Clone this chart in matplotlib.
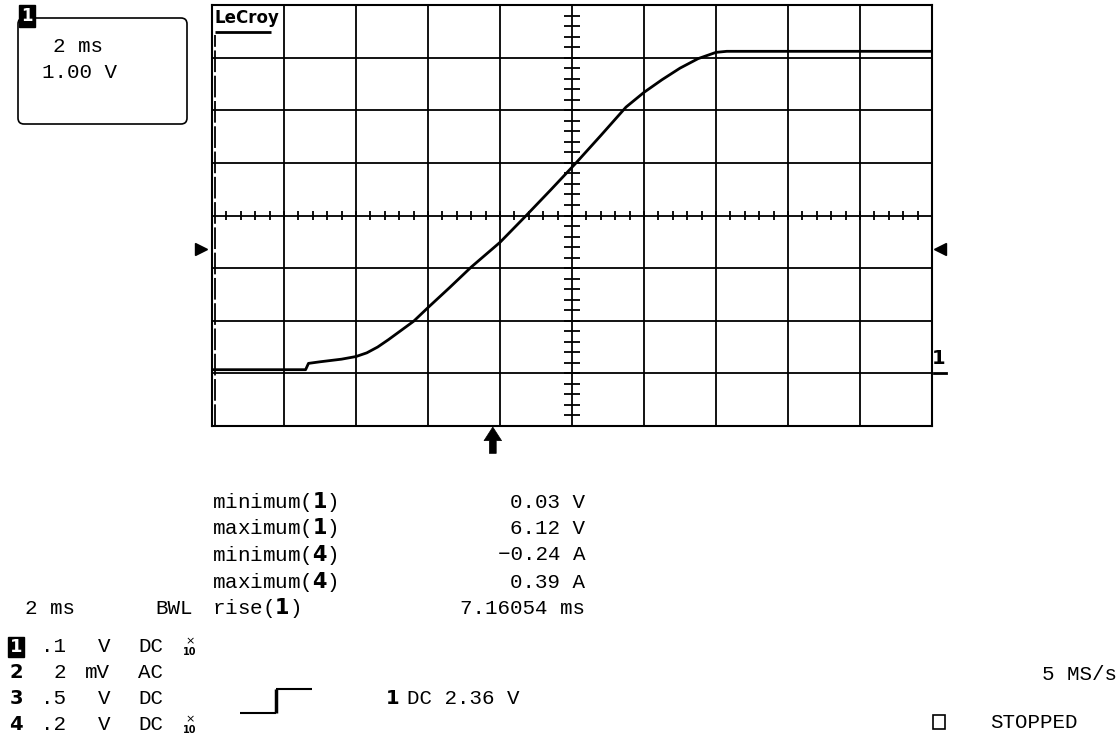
import numpy as np
import matplotlib
matplotlib.use("Agg")
import matplotlib.pyplot as plt
from matplotlib.patches import FancyBboxPatch, Rectangle
from matplotlib.lines import Line2D

# ---------------- data ----------------
time_ms = [0, 2.6, 2.68, 3.0, 3.6, 4.0, 4.3, 4.6, 4.9, 5.2, 5.6, 6.0, 6.6, 7.2, 8.0,
           8.7, 9.4, 10.1, 10.8, 11.5, 12.0, 12.5, 13.0, 13.5, 14.0, 14.3, 20]
volts = [0.07, 0.07, 0.19, 0.22, 0.27, 0.32, 0.39, 0.50, 0.64, 0.79, 0.99, 1.25, 1.63,
         2.02, 2.49, 2.98, 3.48, 3.99, 4.52, 5.06, 5.34, 5.58, 5.80, 5.98, 6.10,
         6.12, 6.12]
trigger_level_v = 2.36
trigger_time_ms = 7.8
meas_labels = ["minimum", "maximum", "minimum", "maximum", "rise"]
meas_channels = ["1", "1", "4", "4", "1"]
meas_values = ["0.03 V", "6.12 V", "\u22120.24 A", "0.39 A", "7.16054 ms"]
chan_ids = ["1", "2", "3", "4"]
chan_scale = [".1", "2", ".5", ".2"]
chan_unit = ["V", "mV", "V", "V"]
chan_coupling = ["DC", "AC", "DC", "DC"]
chan_probe10 = [True, False, False, True]

W, H = 1120, 738
fig = plt.figure(figsize=(W / 100, H / 100), dpi=100)
fig.patch.set_facecolor("white")
MONO = "Liberation Mono"
FS = 15

def px(x, y):
    return x / W, 1 - y / H

def ftext(x, y, s, ha="left", va="center", **kw):
    kw.setdefault("family", MONO)
    kw.setdefault("fontsize", FS)
    kw.setdefault("color", "black")
    return fig.text(*px(x, y), s, ha=ha, va=va, **kw)

def fline(xs, ys, lw=1.5):
    fx = [x / W for x in xs]
    fy = [1 - y / H for y in ys]
    fig.add_artist(Line2D(fx, fy, transform=fig.transFigure, color="black",
                          lw=lw, solid_capstyle="butt"))

# ---------------- grid / axes ----------------
left, right, top, bottom = 212, 932, 5, 426
ax = fig.add_axes([left / W, 1 - bottom / H, (right - left) / W, (bottom - top) / H])
ax.set_xlim(0, 20)
ax.set_ylim(-1, 7)
ax.set_xticks(np.arange(0, 20.01, 2))
ax.set_yticks(np.arange(-1, 7.01, 1))
ax.tick_params(length=0, labelbottom=False, labelleft=False)
ax.grid(True, color="black", lw=1.3)
for sp in ax.spines.values():
    sp.set_linewidth(1.5)
    sp.set_color("black")

# minor ticks on centre lines
xt = np.arange(0, 20.001, 0.4)
ax.vlines(xt, 3 - 0.08, 3 + 0.08, color="black", lw=1.3)
yt = np.arange(-1, 7.001, 0.2)
ax.hlines(yt, 10 - 0.21, 10 + 0.21, color="black", lw=1.3)

# dashed left marker line
ax.plot([0.09, 0.09], [-1, 6.43], color="black", lw=1.3, ls=(0, (12, 2)))

# trace
ax.plot(time_ms, volts, color="black", lw=2.0, solid_joinstyle="round")

# trigger level markers
ax.plot([-0.31], [trigger_level_v], marker=">", ms=8, color="black", clip_on=False)
ax.plot([20.22], [trigger_level_v], marker="<", ms=8, color="black", clip_on=False)

# ground marker "1"
ax.plot([20.06, 20.39], [0, 0], color="black", lw=2, clip_on=False)
ftext(939, 359, "1", ha="center", family="DejaVu Sans", fontweight="bold", fontsize=14)

# trigger time arrow
ax.annotate("", xy=(trigger_time_ms, -1.02), xytext=(trigger_time_ms, -1.52),
            arrowprops=dict(arrowstyle="simple,head_length=0.7,head_width=0.9,tail_width=0.35",
                            mutation_scale=14, fc="black", ec="black", lw=0.5,
                            shrinkA=0, shrinkB=0),
            annotation_clip=False)

# LeCroy logo
ftext(215, 18, "LeCroy", family="DejaVu Sans", fontweight="bold", fontsize=12)
fline([215, 271], [32, 32], lw=2)

# ---------------- top-left info box ----------------
box = FancyBboxPatch((0.18, (H - 124) / 100), 1.69, 1.06,
                     boxstyle="round,pad=0,rounding_size=0.06",
                     transform=fig.dpi_scale_trans, fc="none", ec="black", lw=1.2)
fig.add_artist(box)
ftext(27, 16, "1", ha="center", family="DejaVu Sans", fontweight="bold",
      fontsize=12, color="white",
      bbox=dict(boxstyle="square,pad=0.12", fc="black", ec="black"))
ftext(53, 47, "2 ms")
ftext(42, 72, "1.00 V")

# ---------------- measurements ----------------
meas_y = [502, 528, 555, 582, 608]
for lab, ch, val, y in zip(meas_labels, meas_channels, meas_values, meas_y):
    ftext(212, y, lab + "($\\mathbf{" + ch + "}$)")
    ftext(585, y, val, ha="right")

ftext(25, 608, "2 ms")
ftext(193, 608, "BWL", ha="right")

# ---------------- channel rows ----------------
row_y = [647, 672, 698, 725]
for i, y in enumerate(row_y):
    if i == 0:
        ftext(16, y, chan_ids[i], ha="center", family="DejaVu Sans", fontweight="bold",
              fontsize=13, color="white",
              bbox=dict(boxstyle="square,pad=0.08", fc="black", ec="black"))
    else:
        ftext(16, y, chan_ids[i], ha="center", family="DejaVu Sans", fontweight="bold",
              fontsize=14)
    ftext(66, y, chan_scale[i], ha="right")
    ftext(110, y, chan_unit[i], ha="right")
    ftext(138, y, chan_coupling[i])
    if chan_probe10[i]:
        ftext(190, y - 6, "\u00d7", ha="center", fontsize=8, family="DejaVu Sans")
        ftext(190, y + 5, "10", ha="center", fontsize=7, family="DejaVu Sans",
              fontweight="bold")

# trigger step symbol
fline([240, 276], [713, 713], lw=1.5)
fline([276, 276], [713, 689], lw=2.5)
fline([276, 312], [689, 689], lw=1.5)
ftext(393, 698, "1", ha="center", family="DejaVu Sans", fontweight="bold", fontsize=14)
ftext(407, 698, "DC 2.36 V")

# right status
ftext(1117, 675, "5 MS/s", ha="right")
fig.add_artist(Rectangle((933 / W, 1 - 729 / H), 12 / W, 14 / H,
                         transform=fig.transFigure, fc="none", ec="black", lw=1.2))
ftext(990, 723, "STOPPED")

fig.savefig("out.png", dpi=100, facecolor="white")
